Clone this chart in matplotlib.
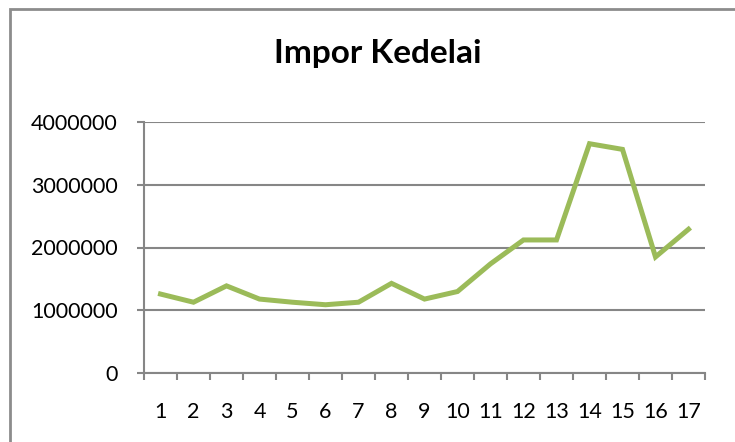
import matplotlib.pyplot as plt
from matplotlib.patches import Rectangle
import numpy as np

# data
tahun = list(range(1, 18))
impor = [1260000, 1130000, 1390000, 1180000, 1130000, 1090000, 1130000, 1430000,
         1180000, 1300000, 1740000, 2120000, 2120000, 3650000, 3560000, 1850000, 2290000]
y_ticks = [0, 1000000, 2000000, 3000000, 4000000]

plt.rcParams['font.family'] = ['Lato', 'DejaVu Sans']

fig = plt.figure(figsize=(7.35, 4.42), dpi=100)
ax = fig.add_axes([144/735, 1 - 373.3/442, (705 - 144)/735, (373.3 - 121.7)/442])

gray = '#868686'
ax.plot(tahun, impor, color='#9BBB59', lw=3.6, solid_joinstyle='miter', zorder=3)

ax.set_xlim(0.5, 17.5)
ax.set_ylim(0, 4000000)
ax.set_yticks(y_ticks)
ax.set_yticklabels([str(v) for v in y_ticks])
ax.set_xticks(tahun)
ax.set_xticklabels([str(t) for t in tahun])
ax.set_xticks(np.arange(0.5, 18, 1), minor=True)
ax.tick_params(axis='x', which='major', length=0, pad=21, labelsize=15.5)
ax.tick_params(axis='x', which='minor', length=5, width=1.5, color=gray, direction='out')
ax.tick_params(axis='y', length=5, width=1.5, color=gray, direction='out', pad=14, labelsize=15.5)

ax.grid(axis='y', color=gray, lw=1.5)
ax.set_axisbelow(True)
for s in ['top', 'right']:
    ax.spines[s].set_visible(False)
for s in ['left', 'bottom']:
    ax.spines[s].set_color(gray)
    ax.spines[s].set_linewidth(1.5)

fig.text(378/735, 1 - 62.7/442, 'Impor Kedelai', ha='center', va='baseline',
         fontsize=24, fontweight='bold')

# chart frame (cut off at right and bottom)
fig.patches.append(Rectangle((10/735, -0.1), 1.2, 1 - 9/442 + 0.1, transform=fig.transFigure,
                             fill=False, edgecolor='#8c8c8c', lw=2))

fig.savefig('out.png', dpi=100)
